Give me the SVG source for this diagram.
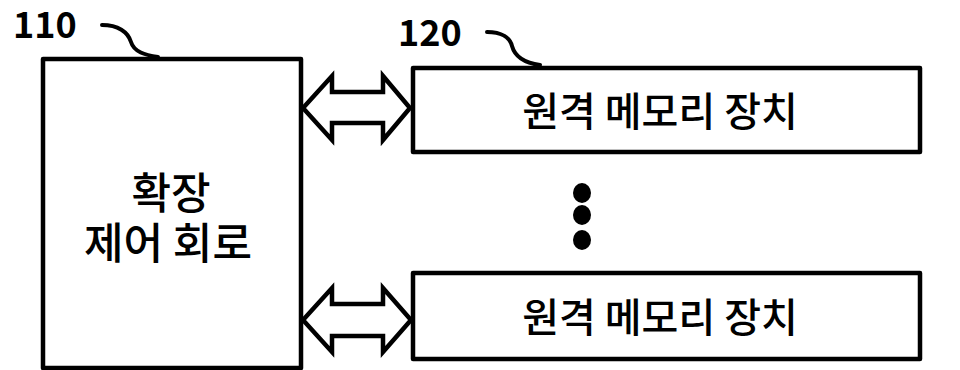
<svg xmlns="http://www.w3.org/2000/svg" width="960" height="370" viewBox="0 0 960 370">
<style>
.box{fill:#fff;stroke:#000;stroke-width:4.5;stroke-linejoin:round}
.lead{fill:none;stroke:#000;stroke-width:4;stroke-linecap:round}
.arr{fill:#fff;stroke:#000;stroke-width:4.5;stroke-linejoin:miter}
.num{font-family:"Noto Sans CJK KR","Noto Sans",sans-serif;font-weight:700;font-size:36px;fill:#000}
.lbl{font-family:"Noto Sans CJK KR","Noto Sans",sans-serif;font-weight:500;font-size:40px;fill:#000;text-anchor:middle}
.big{font-size:43px}
</style>
<rect width="960" height="370" fill="#fff"/>
<g id="node-110">
<rect class="box" x="43" y="59" width="258" height="309"/>
<text class="lbl big" x="171" y="209">확장</text>
<text class="lbl big" x="168" y="259">제어 회로</text>
</g>
<g id="node-120a">
<rect class="box" x="413" y="68" width="507" height="84"/>
<text class="lbl" x="660" y="126">원격 메모리 장치</text>
</g>
<g id="node-120b">
<rect class="box" x="413" y="273" width="507" height="86"/>
<text class="lbl" x="660" y="332">원격 메모리 장치</text>
</g>
<g id="dots">
<ellipse cx="582" cy="193" rx="9" ry="10"/>
<ellipse cx="582" cy="215" rx="9" ry="10"/>
<ellipse cx="582" cy="240" rx="9" ry="10"/>
</g>
<g id="labels">
<text class="num" x="13" y="38">110</text>
<path class="lead" d="M102,25 C118,25 128,32 131,42 C134,52 145,55 158,57"/>
<text class="num" x="398" y="46">120</text>
<path class="lead" d="M487,32 C502,32 510,38 512,46 C515,57 525,63 540,65"/>
</g>
<g id="connectors">
<polygon class="arr" points="303,108 332,76 332,92 383,92 383,76 410,108 383,140 383,123 332,123 332,140"/>
<polygon class="arr" points="303,320 332,288 332,304 383,304 383,288 411,320 383,352 383,336 332,336 332,352"/>
</g>
</svg>
